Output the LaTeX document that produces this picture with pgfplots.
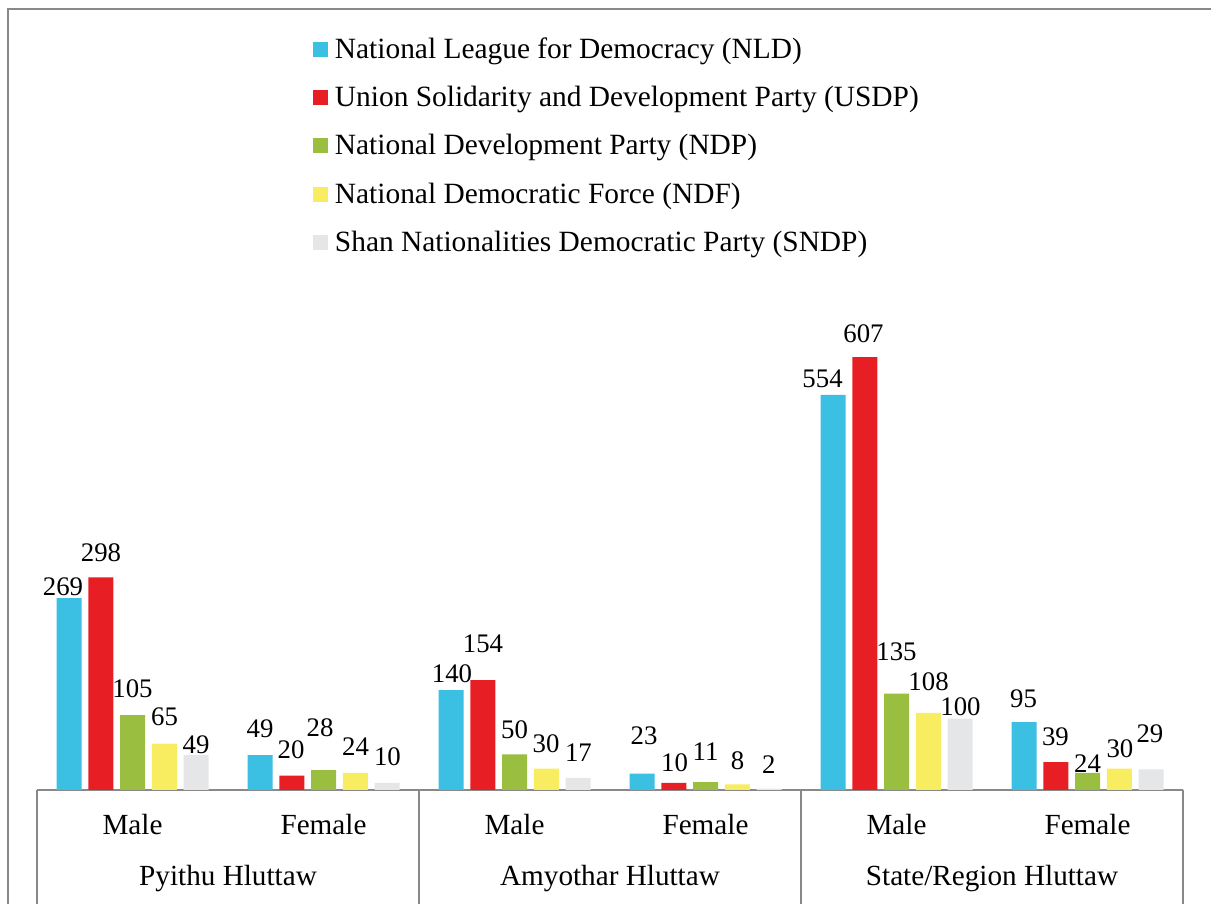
\documentclass[border=0pt]{standalone}
\usepackage{fontspec}
\setmainfont{Liberation Serif}
\usepackage{pgfplots}
\pgfplotsset{compat=1.18}
\usepackage{pgfplotstable}
\definecolor{nld}{RGB}{59,191,227}
\definecolor{usdp}{RGB}{232,30,37}
\definecolor{ndp}{RGB}{154,190,64}
\definecolor{ndf}{RGB}{248,236,96}
\definecolor{sndp}{RGB}{229,230,231}
\definecolor{axisgray}{RGB}{137,137,137}
\pgfplotstableread{
x NLD USDP NDP NDF SNDP
0 269 298 105 65 49
1 49 20 28 24 10
2 140 154 50 30 17
3 23 10 11 8 2
4 554 607 135 108 100
5 95 39 24 30 29
}\seats
\pgfplotstableread{
x y lab
-0.364 284.6 269
-0.165 332.3 298
0.000 141.6 105
0.168 102.3 65
0.333 63.1 49
0.668 85.5 49
0.830 56.1 20
0.982 87.6 28
1.168 60.3 24
1.335 46.3 10
1.673 163.3 140
1.835 205.4 154
2.000 84.1 50
2.165 64.5 30
2.335 51.9 17
2.678 76.4 23
2.838 37.9 10
3.000 53.3 11
3.168 41.4 8
3.332 35.0 2
3.613 576.9 554
3.827 640.0 607
4.000 193.5 135
4.168 151.4 108
4.335 116.4 100
4.665 128.3 95
4.832 74.3 39
5.000 36.5 24
5.170 58.2 30
5.327 78.5 29
}\labels
\pgfplotsset{sqlegend/.style={legend image code/.code={\fill[##1] (0pt,-3.75pt) rectangle (7.5pt,3.75pt);}}}
\begin{document}
\begin{tikzpicture}
\useasboundingbox (0,0) rectangle (605.5pt,452pt);
\draw[axisgray, line width=1pt] (4pt,-5pt) -- (4pt,447.5pt) -- (612pt,447.5pt);
\begin{axis}[
  at={(18.5pt,57pt)}, anchor=south west,
  x=95.5pt, y=0.35665pt,
  xmin=-0.5, xmax=5.5, ymin=0, ymax=1072.5,
  axis x line=bottom, axis y line=none,
  axis line style={-, draw=axisgray, line width=1pt},
  xtick={0,...,5}, xticklabels={Male,Female,Male,Female,Male,Female},
  major tick length=0pt,
  xticklabel style={anchor=base, yshift=-22.5pt, font=\fontsize{14.6}{17}\selectfont},
  ytick=\empty,
  clip=false,
  legend cell align=left,
  legend style={at={(axis description cs:0.2408,1)}, anchor=north west, draw=none, fill=none,
    inner sep=0pt, outer sep=0pt, column sep=3.5pt, row sep=0pt,
    font=\fontsize{14.7}{17}\selectfont,
    nodes={inner sep=0pt, minimum height=24.2pt}},
]
\addplot[ybar, bar width=12.5pt, bar shift=-31.75pt, fill=nld, draw=none, sqlegend] table[x=x,y=NLD]{\seats};
\addlegendentry{National League for Democracy (NLD)}
\addplot[ybar, bar width=12.5pt, bar shift=-15.875pt, fill=usdp, draw=none, sqlegend] table[x=x,y=USDP]{\seats};
\addlegendentry{Union Solidarity and Development Party (USDP)}
\addplot[ybar, bar width=12.5pt, bar shift=0pt, fill=ndp, draw=none, sqlegend] table[x=x,y=NDP]{\seats};
\addlegendentry{National Development Party (NDP)}
\addplot[ybar, bar width=12.5pt, bar shift=15.875pt, fill=ndf, draw=none, sqlegend] table[x=x,y=NDF]{\seats};
\addlegendentry{National Democratic Force (NDF)}
\addplot[ybar, bar width=12.5pt, bar shift=31.75pt, fill=sndp, draw=none, sqlegend] table[x=x,y=SNDP]{\seats};
\addlegendentry{Shan Nationalities Democratic Party (SNDP)}
\addplot[draw=none, nodes near coords={\pgfplotspointmeta}, point meta=explicit symbolic,
  every node near coord/.style={anchor=center, inner sep=0pt, font=\fontsize{13.4}{15}\selectfont, text=black}]
  table[x=x,y=y,meta=lab]{\labels};
\draw[axisgray, line width=1pt] (axis cs:-0.5,0) -- ++(0pt,-62pt);
\draw[axisgray, line width=1pt] (axis cs:1.5,0) -- ++(0pt,-62pt);
\draw[axisgray, line width=1pt] (axis cs:3.5,0) -- ++(0pt,-62pt);
\draw[axisgray, line width=1pt] (axis cs:5.5,0) -- ++(0pt,-62pt);
\node[anchor=base, yshift=-48pt, font=\fontsize{14.6}{17}\selectfont] at (axis cs:0.5,0) {Pyithu Hluttaw};
\node[anchor=base, yshift=-48pt, font=\fontsize{14.6}{17}\selectfont] at (axis cs:2.5,0) {Amyothar Hluttaw};
\node[anchor=base, yshift=-48pt, font=\fontsize{14.6}{17}\selectfont] at (axis cs:4.5,0) {State/Region Hluttaw};
\end{axis}
\end{tikzpicture}
\end{document}
